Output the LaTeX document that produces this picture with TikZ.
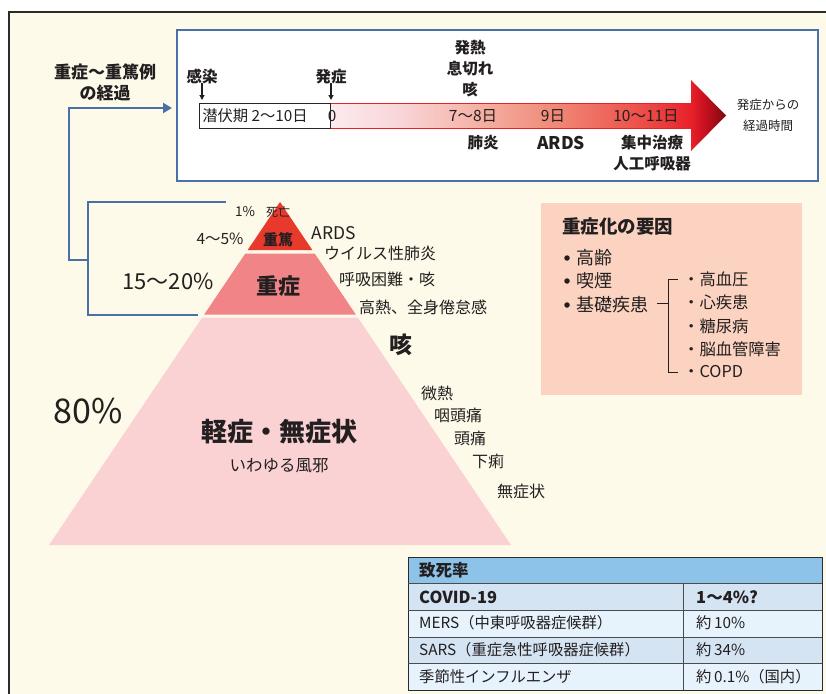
\documentclass[tikz,border=0pt]{standalone}
\usepackage{fontspec}
\setmainfont{Noto Sans CJK JP}
\usetikzlibrary{arrows.meta}
\definecolor{bgbeige}{HTML}{FEFAE9}
\definecolor{framecol}{HTML}{2B2B2B}
\definecolor{tlblue}{HTML}{4A70A8}
\definecolor{txt}{HTML}{231F20}
\definecolor{pyrA}{HTML}{E83A2C}
\definecolor{pyrB}{HTML}{F08486}
\definecolor{pyrC}{HTML}{FAD2D4}
\definecolor{factbg}{HTML}{FBD3C0}
\definecolor{thead}{HTML}{8DC3E8}
\definecolor{rowA}{HTML}{D5E4F3}
\definecolor{rowB}{HTML}{E6F3FC}
\definecolor{tlA}{HTML}{FCEAEE}
\definecolor{tlB}{HTML}{F9D6D8}
\definecolor{tlC}{HTML}{F5B5AA}
\definecolor{tlD}{HTML}{F08A78}
\definecolor{tlE}{HTML}{EC4A44}
\definecolor{tlF}{HTML}{E8202A}
\definecolor{tlG}{HTML}{C81020}
\definecolor{tlH}{HTML}{7A0A10}
\definecolor{redline}{HTML}{E8202A}
\pgfdeclarehorizontalshading{tlshade}{100bp}{color(0bp)=(tlA); color(25bp)=(tlA); color(33.8bp)=(tlB); color(42.7bp)=(tlC); color(53.2bp)=(tlD); color(65.2bp)=(tlE); color(70.6bp)=(tlF); color(72.3bp)=(tlG); color(75bp)=(tlH); color(100bp)=(tlH)}
\newcommand{\fs}[1]{\fontsize{#1}{21}\selectfont}
\tikzset{
  lbl/.style={inner sep=0pt, text=txt, font=\fs{15.5}, align=center},
  blbl/.style={lbl, font=\fs{15.5}\bfseries},
  small/.style={lbl, font=\fs{12.5}},
  conn/.style={draw=tlblue, line width=2.5pt},
  tcell/.style={lbl, anchor=west, font=\fs{15.3}},
  fact/.style={lbl, anchor=west, font=\fs{18}},
  sub/.style={lbl, anchor=west, font=\fs{16.3}},
  bul/.style={circle, fill=txt, inner sep=0pt, minimum size=5.5pt},
}
\begin{document}
\begin{tikzpicture}[x=1pt,y=-1pt]
\useasboundingbox (0,0) rectangle (826,693);
\begin{scope}
\clip (0,0) rectangle (826,693);
\fill[white] (0,0) rectangle (826,693);
\draw[line width=2pt, draw=framecol, fill=bgbeige] (9,12) rectangle (860,720);
\end{scope}

% ---------- timeline box ----------
\draw[line width=2pt, draw=tlblue, fill=white] (177,30) rectangle (818,181);
\node[blbl, font=\fs{17}\bfseries] (course) at (105,82) {重症〜重篤例\\の経過};

\shade[shading=tlshade] (330,103) -- (691,103) -- (691,80) -- (726,115.5) -- (691,151) -- (691,128) -- (330,128) -- cycle;
\draw[redline, line width=1pt] (330,103) -- (691,103);
\draw[redline, line width=1pt] (330,128) -- (691,128);
\draw[line width=1pt, draw=black!85] (199,103) rectangle (330,128);

\node[blbl] (inf) at (202,77) {感染};
\node[blbl] (ons) at (331,77) {発症};
\coordinate (infA) at (202,100);
\coordinate (onsA) at (331,100);
\draw[-{Triangle[length=5pt,width=5pt]}, line width=1.2pt, txt] (inf.south) ++(0,-2) -- (infA);
\draw[-{Triangle[length=5pt,width=5pt]}, line width=1.2pt, txt] (ons.south) ++(0,-2) -- (onsA);

\node[lbl, font=\fs{15.3}] (latent) at (255,116) {潜伏期 2〜10日};
\node[lbl, font=\fs{15.3}] (zero) at (332,116) {0};
\node[blbl] (symp) at (470,69) {発熱\\息切れ\\咳};
\node[lbl] (d78) at (473,116) {7〜8日};
\node[lbl] (d9) at (553,116) {9日};
\node[lbl] (d1011) at (646,116) {10〜11日};
\node[blbl] (pneu) at (483,143) {肺炎};
\node[blbl, font=\fs{17.5}\bfseries] (ards1) at (561,143) {ARDS};
\node[blbl] (icu) at (652,153) {集中治療\\人工呼吸器};
\node[small] (elapsed) at (768,115) {発症からの\\経過時間};

% ---------- connector ----------
\coordinate (bt) at (226,202);
\coordinate (bb) at (198,315);
\coordinate (bm) at (88,260);
\coordinate (ah) at (172,108);
\draw[conn] (bt) -- (88,202) -- (88,315) -- (bb);
\draw[conn, -{Triangle[length=9pt,width=10pt]}] (bm) -- (69,260) -- (69,108) -- (ah);

% ---------- pyramid ----------
\fill[pyrA] (280,202) -- (312.3,250) -- (247.7,250) -- cycle;
\fill[pyrB] (245.3,253.5) -- (314.7,253.5) -- (355.8,314.5) -- (204.2,314.5) -- cycle;
\fill[pyrC] (202.2,317.5) -- (357.8,317.5) -- (511,545) -- (49,545) -- cycle;

\node[lbl, font=\fs{13.5}] (p1) at (245,212) {1\%};
\node[lbl, font=\fs{12}] (death) at (278,212) {死亡};
\node[lbl, font=\fs{15.5}] (p45) at (220,239) {4〜5\%};
\node[blbl, font=\fs{15}\bfseries] (crit) at (278,240) {重篤};
\node[lbl, font=\fs{17.5}] (ards2) at (334,233) {ARDS};
\node[lbl, font=\fs{16}] (viral) at (380,253) {ウイルス性肺炎};
\node[lbl, font=\fs{22}] (p1520) at (168,281) {15〜20\%};
\node[blbl, font=\fs{22}\bfseries] (severe) at (278,286) {重症};
\node[lbl, font=\fs{16}] (dysp) at (387,279) {呼吸困難・咳};
\node[lbl, font=\fs{16}] (fever) at (423,307) {高熱、全身倦怠感};
\node[blbl, font=\fs{23}\bfseries] (cough) at (401,345) {咳};
\node[lbl, font=\fs{34}] (p80) at (88,411) {80\%};
\node[blbl, font=\fs{26}\bfseries] (mild) at (279,432) {軽症・無症状};
\node[lbl, font=\fs{16.5}] (cold) at (279,466) {いわゆる風邪};
\node[lbl, font=\fs{16}] (s1) at (437,393) {微熱};
\node[lbl, font=\fs{16}] (s2) at (458,415) {咽頭痛};
\node[lbl, font=\fs{16}] (s3) at (470,438) {頭痛};
\node[lbl, font=\fs{16}] (s4) at (488,461) {下痢};
\node[lbl, font=\fs{16}] (s5) at (521,491) {無症状};

% ---------- factors ----------
\fill[factbg] (541,203) rectangle (802,395);
\node[fact, font=\fs{18.5}\bfseries] (ftitle) at (562,226) {重症化の要因};
\node[bul] (b1) at (567,258) {};
\node[bul] (b2) at (567,281) {};
\node[bul] (b3) at (567,305) {};
\node[fact] (f1) at (576,258) {高齢};
\node[fact] (f2) at (576,281) {喫煙};
\node[fact] (f3) at (576,305) {基礎疾患};
\node[sub] (g1) at (683,279) {・高血圧};
\node[sub] (g2) at (683,302) {・心疾患};
\node[sub] (g3) at (683,326) {・糖尿病};
\node[sub] (g4) at (683,349) {・脳血管障害};
\node[sub] (g5) at (683,372) {・COPD};
\coordinate (brk) at (668,303);
\draw[txt, line width=0.9pt] (657,303) -- (brk);
\draw[txt, line width=0.9pt] (678,279) -- (668,279) -- (668,372) -- (678,372);

% ---------- table ----------
\fill[thead] (408,557) rectangle (822,583);
\fill[rowA] (408,583) rectangle (822,610);
\fill[rowB] (408,610) rectangle (822,637);
\fill[rowA] (408,637) rectangle (822,663);
\fill[rowB] (408,663) rectangle (822,690);
\draw[framecol, line width=1pt] (408,557) rectangle (822,690);
\foreach \yy in {583,610,637,663} \draw[black!70, line width=1pt] (408,\yy) -- (822,\yy);
\draw[black!70, line width=1pt] (683,583) -- (683,690);
\node[tcell, font=\fs{16.5}\bfseries] (th) at (419,570) {致死率};
\node[tcell, font=\fs{16.5}\bfseries] (r1a) at (419,597) {COVID-19};
\node[tcell, font=\fs{16.5}\bfseries] (r1b) at (696,597) {1〜4\%?};
\node[tcell] (r2a) at (419,623) {MERS（中東呼吸器症候群）};
\node[tcell] (r2b) at (696,623) {約\,10\%};
\node[tcell] (r3a) at (419,650) {SARS（重症急性呼吸器症候群）};
\node[tcell] (r3b) at (696,650) {約\,34\%};
\node[tcell] (r4a) at (419,677) {季節性インフルエンザ};
\node[tcell] (r4b) at (696,677) {約\,0.1\%（国内）};
\end{tikzpicture}
\end{document}
